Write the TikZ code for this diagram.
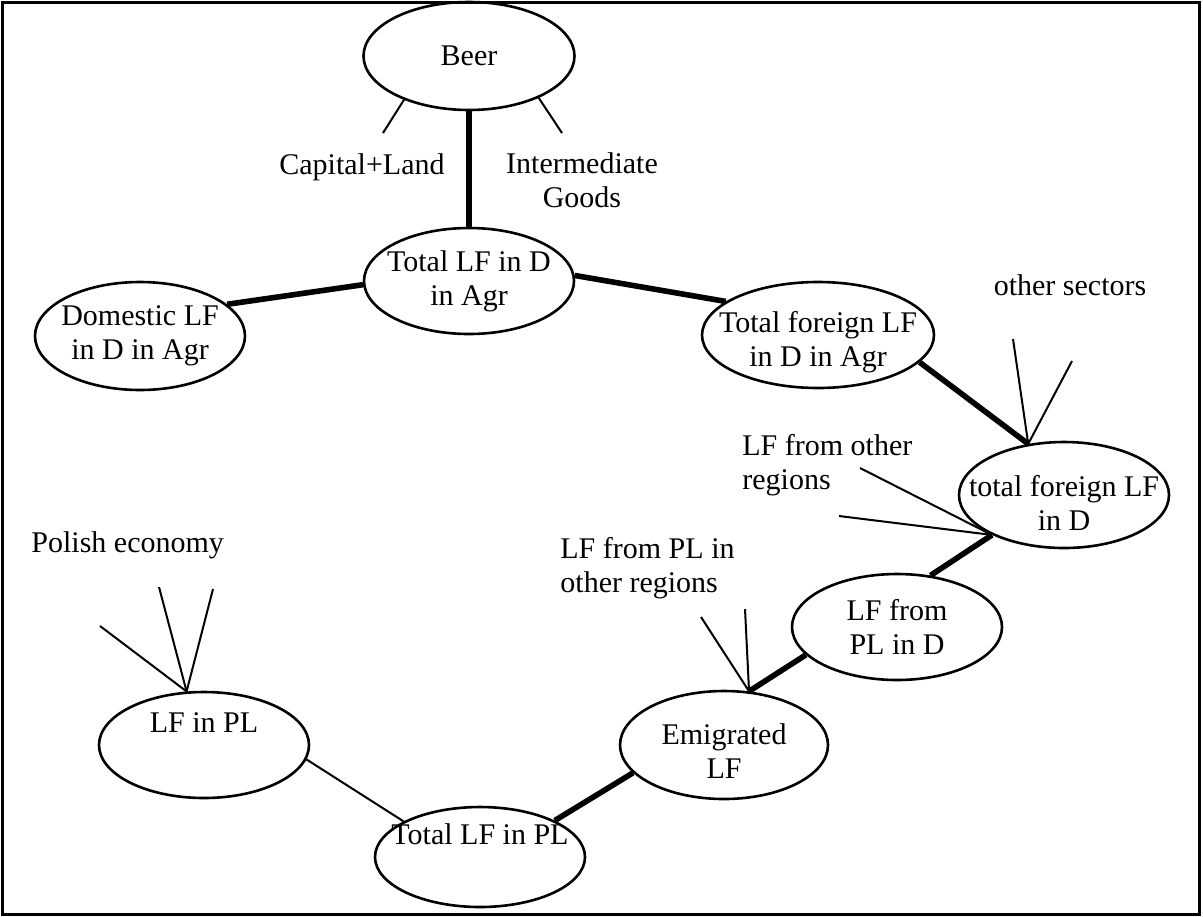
\documentclass[tikz,border=0pt]{standalone}
\usepackage{fontspec}
\setmainfont{Liberation Serif}
\usepackage{tikz}
\usetikzlibrary{shapes.geometric}

\begin{document}
\begin{tikzpicture}[
    x=0.5pt, y=-0.5pt,
    oval/.style={draw, ellipse, line width=1.3pt, inner xsep=-15pt, inner ysep=-6pt, minimum width=105pt, minimum height=53pt, align=center, font=\fontsize{15pt}{17pt}\selectfont},
    tag/.style={inner sep=0pt, align=center, font=\fontsize{15pt}{17pt}\selectfont},
    link/.style={line width=2.8pt},
    thinlink/.style={line width=1pt},
    feed/.style={line width=1pt},
    frame/.style={line width=1.5pt},
]
\useasboundingbox (0,0) rectangle (1203,916);
\draw[frame] (2,2) rectangle (1199,914);

% ─────────────────────────────────────────
% TOP: Beer and German agriculture
% ─────────────────────────────────────────
\node[oval, minimum width=105.5pt, minimum height=54pt] (beer) at (469, 56) {Beer};
\node[oval] (totd) at (469, 281) {Total LF in D\\in Agr};
\node[oval, minimum height=54pt] (dom) at (140, 336) {Domestic LF\\in D in Agr};
\node[oval, minimum width=116pt] (tfa) at (818, 335) {\rule{0pt}{17.5pt}Total foreign LF\\in D in Agr};

% Other inputs to beer
\node[tag] (cap) at (362, 167) {Capital+Land};
\node[tag] (inter) at (582, 180) {Intermediate\\Goods};
\coordinate (capend) at (383, 133);
\coordinate (interend) at (562, 133);
\draw[feed] (beer.214) -- (capend);
\draw[feed] (beer.-31) -- (interend);

\draw[link] (beer.south) -- (totd.north);
\draw[link] (dom.20) -- (totd.182);
\draw[link] (totd.3) -- (tfa.160);

% ─────────────────────────────────────────
% RIGHT: foreign labour force in Germany
% ─────────────────────────────────────────
\node[oval] (tfd) at (1064, 495) {\rule{0pt}{19pt}total foreign LF\\in D};
\node[oval] (pld) at (897, 627) {LF from\\PL in D};

\draw[link] (tfa.-15) -- (tfd.125);
\draw[link] (tfd.209) -- (pld.57);

% other sectors
\node[tag] (othsec) at (1070, 285) {other sectors};
\coordinate (sec1) at (1013, 339);
\coordinate (sec2) at (1072, 361);
\draw[feed] (sec1) -- (tfd.125);
\draw[feed] (sec2) -- (tfd.125);

% other source regions
\node[tag, align=left, anchor=west] (othreg) at (742, 465) {LF from other\\regions};
\coordinate (reg1) at (860, 468);
\coordinate (reg2) at (839, 516);
\draw[feed] (reg1) -- (tfd.209);
\draw[feed] (reg2) -- (tfd.209);

% ─────────────────────────────────────────
% BOTTOM: Polish labour force
% ─────────────────────────────────────────
\node[oval, minimum width=104pt, minimum height=54pt] (emig) at (724, 745) {\rule{0pt}{16.5pt}Emigrated\\LF};
\node[oval, minimum height=50pt] (tpl) at (480, 857) {Total LF in PL\\[6pt]\mbox{}};
\node[oval] (lfpl) at (204, 745) {LF in PL\\[5pt]\mbox{}};

\draw[link] (pld.197) -- (emig.65);
\draw[link] (emig.197) -- (tpl.26);
\draw[thinlink] (lfpl.-8) -- (tpl.155);

% emigrants to other regions
\node[tag, align=left, anchor=west] (plother) at (560, 568) {LF from PL in\\other regions};
\coordinate (pl1) at (701, 617);
\coordinate (pl2) at (745, 609);
\draw[feed] (pl1) -- (emig.65);
\draw[feed] (pl2) -- (emig.65);

% Polish economy
\node[tag, anchor=west] (poleco) at (31, 545) {Polish economy};
\coordinate (eco1) at (100, 626);
\coordinate (eco2) at (159, 587);
\coordinate (eco3) at (213, 589);
\draw[feed] (eco1) -- (lfpl.108);
\draw[feed] (eco2) -- (lfpl.108);
\draw[feed] (eco3) -- (lfpl.108);

\end{tikzpicture}
\end{document}
